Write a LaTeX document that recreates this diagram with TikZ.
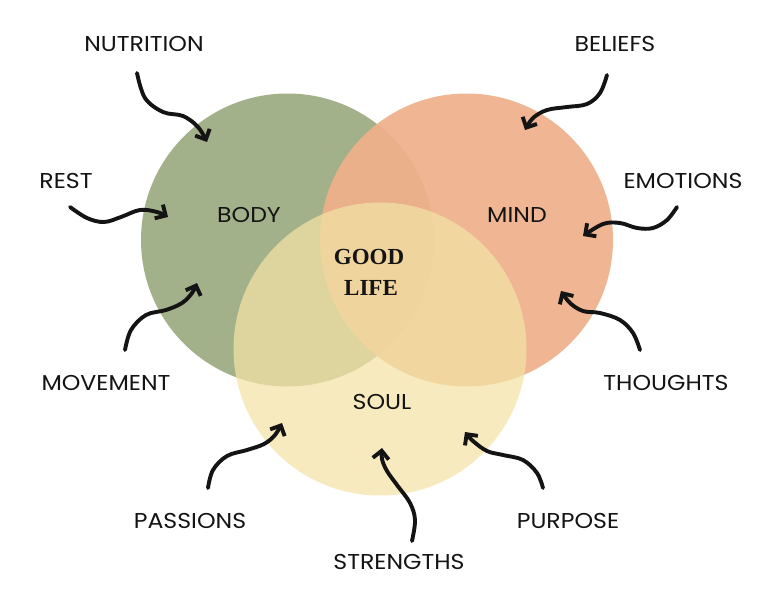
\documentclass[tikz,border=0pt]{standalone}
\usepackage{fontspec}
\setmainfont{Poppins}[FakeStretch=1.1]
\newfontfamily\goodfont{Liberation Serif}
\usetikzlibrary{arrows.meta}
\definecolor{bodyc}{RGB}{163,177,138}
\definecolor{mindc}{RGB}{239,176,139}
\definecolor{soulc}{RGB}{244,227,165}
\definecolor{ink}{RGB}{20,20,20}
\begin{document}
\begin{tikzpicture}[x=1pt,y=-1pt,
  lbl/.style={font=\fontsize{21.5}{21.5}\selectfont, inner sep=0pt, text=ink},
  good/.style={font=\goodfont\bfseries\fontsize{23}{23}\selectfont, inner sep=0pt, text=ink},
  wavy/.style={draw=ink, line width=3.9pt, line cap=round, line join=round,
    -{Straight Barb[length=8pt,width=16pt]}}]
\useasboundingbox (0,0) rectangle (780,606);
\fill[white] (0,0) rectangle (780,606);
% circles
\fill[bodyc] (287.5,240) circle[radius=146.5pt];
\fill[mindc, opacity=0.92] (466.5,240) circle[radius=146.5pt];
\fill[soulc, opacity=0.72] (380,349) circle[radius=146.5pt];
% labels
\node[lbl] (nutrition) at (144,44) {NUTRITION};
\node[lbl] (rest) at (66,181) {REST};
\node[lbl] (body) at (249,215) {BODY};
\node[lbl] (movement) at (106,383) {MOVEMENT};
\node[lbl] (beliefs) at (615,44) {BELIEFS};
\node[lbl] (emotions) at (683,181) {EMOTIONS};
\node[lbl] (mind) at (517,215) {MIND};
\node[lbl] (thoughts) at (666,383) {THOUGHTS};
\node[lbl] (soul) at (382,402) {SOUL};
\node[lbl] (passions) at (190,521) {PASSIONS};
\node[lbl] (purpose) at (568,521) {PURPOSE};
\node[lbl] (strengths) at (399,562) {STRENGTHS};
\node[good] (goodw) at (369,257) {GOOD};
\node[good] (lifew) at (371,288) {LIFE};
% arrow ends
\coordinate (nutS) at (137,73);   \coordinate (nutE) at (207,142);
\coordinate (resS) at (70,207);   \coordinate (resE) at (168,217);
\coordinate (movS) at (125,350);  \coordinate (movE) at (197,283);
\coordinate (belS) at (607,75);   \coordinate (belE) at (525,130);
\coordinate (emoS) at (677,207);  \coordinate (emoE) at (583,236);
\coordinate (thoS) at (640,350);  \coordinate (thoE) at (561,291);
\coordinate (pasS) at (208,488);  \coordinate (pasE) at (282,423);
\coordinate (strS) at (412,541);  \coordinate (strE) at (382,448);
\coordinate (purS) at (543,488);  \coordinate (purE) at (465,432);
% arrows
\draw[wavy] plot[smooth, tension=0.6] coordinates {(nutS) (145,98) (163,112) (183,116) (198,127) (nutE)};
\draw[wavy] plot[smooth, tension=0.6] coordinates {(resS) (87,218) (104,222) (121,217) (140,210) (157,212) (resE)};
\draw[wavy] plot[smooth, tension=0.6] coordinates {(movS) (131,330) (146,315) (166,310) (182,303) (192,293) (movE)};
\draw[wavy] plot[smooth, tension=0.6] coordinates {(belS) (600,93) (587,104) (567,107) (547,110) (533,118) (belE)};
\draw[wavy] plot[smooth, tension=0.6] coordinates {(emoS) (667,220) (653,228) (637,228) (620,223) (603,224) (emoE)};
\draw[wavy] plot[smooth, tension=0.6] coordinates {(thoS) (633,333) (620,320) (600,313) (583,311) (570,303) (thoE)};
\draw[wavy] plot[smooth, tension=0.6] coordinates {(pasS) (213,470) (227,456) (247,450) (264,444) (275,435) (pasE)};
\draw[wavy] plot[smooth, tension=0.6] coordinates {(strS) (415,520) (410,503) (397,485) (387,471) (382,459) (strE)};
\draw[wavy] plot[smooth, tension=0.6] coordinates {(purS) (537,473) (523,460) (503,455) (487,451) (473,441) (purE)};
\end{tikzpicture}
\end{document}
